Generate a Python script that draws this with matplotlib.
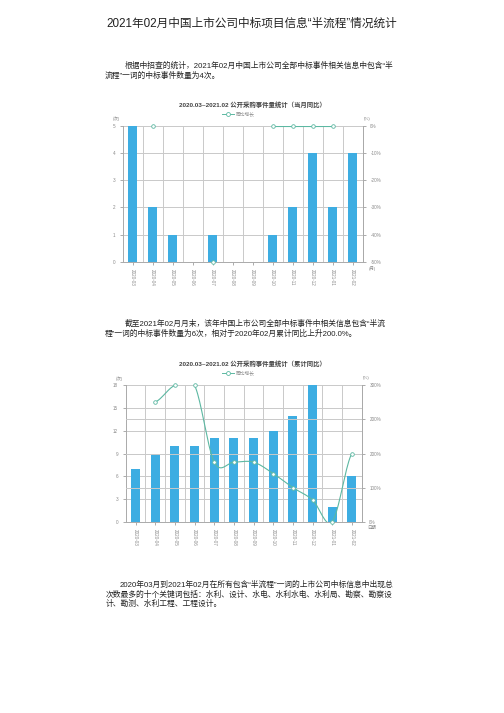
import numpy as np
import matplotlib
matplotlib.use("Agg")
import matplotlib.pyplot as plt
from matplotlib.lines import Line2D

plt.rcParams['font.family'] = ['Liberation Sans', 'Noto Sans CJK SC', 'DejaVu Sans']

# data
months = ["2020-03", "2020-04", "2020-05", "2020-06", "2020-07", "2020-08",
          "2020-09", "2020-10", "2020-11", "2020-12", "2021-01", "2021-02"]
monthly_counts = [5, 2, 1, 0, 1, 0, 0, 1, 2, 4, 2, 4]
monthly_yoy = [np.nan, 0, np.nan, np.nan, -50, np.nan, np.nan, 0, 0, 0, 0, np.nan]
cum_counts = [7, 9, 10, 10, 11, 11, 11, 12, 14, 18, 2, 6]
cum_yoy = [np.nan, 263, 300, 300, 131, 131, 131, 106, 75, 48, 0, 150]

BAR = "#3dade2"
LINE = "#5cb8a2"
GRID = "#c9c9c9"
TICK = "#8a8a8a"

W, H = 504, 713
fig = plt.figure(figsize=(W / 100, H / 100), dpi=100)


def px(x, y):
    return x / W, 1 - y / H


def text_at(x, y, s, **kw):
    fx, fy = px(x, y)
    fig.text(fx, fy, s, **kw)


def smooth(xs, ys, n=20):
    # catmull-rom through consecutive valid points (just for drawing)
    xs = np.asarray(xs, float)
    ys = np.asarray(ys, float)
    out_x, out_y = [], []
    for i in range(len(xs) - 1):
        p0 = ys[i - 1] if i > 0 else ys[i]
        p3 = ys[i + 2] if i + 2 < len(ys) else ys[i + 1]
        p1, p2 = ys[i], ys[i + 1]
        t = np.linspace(0, 1, n)
        m1 = (p2 - p0) / 2
        m2 = (p3 - p1) / 2
        h00 = 2 * t**3 - 3 * t**2 + 1
        h10 = t**3 - 2 * t**2 + t
        h01 = -2 * t**3 + 3 * t**2
        h11 = t**3 - t**2
        out_y.extend(h00 * p1 + h10 * m1 + h01 * p2 + h11 * m2)
        out_x.extend(xs[i] + t * (xs[i + 1] - xs[i]))
    return np.array(out_x), np.array(out_y)


def draw_chart(rect, counts, yoy, ymax, ystep, rlim, rticks, rlabels,
               title, legend_y, title_y, unit_bottom, extra_grid=None):
    x0, y0, x1, y1 = rect
    fl, fb = px(x0, y1)
    ax = fig.add_axes([fl, fb, (x1 - x0) / W, (y1 - y0) / H])
    x = np.arange(len(months))
    ax.bar(x, counts, width=0.47, color=BAR, zorder=2)
    ax.set_xlim(-0.5, len(months) - 0.5)
    ax.set_ylim(0, ymax)
    ax.set_yticks(np.arange(0, ymax + 0.01, ystep))
    ax.set_yticklabels([str(int(v)) for v in np.arange(0, ymax + 0.01, ystep)])
    ax.set_xticks(x)
    ax.set_xticklabels(months, rotation=270)
    ax.tick_params(axis='both', labelsize=3.3, colors=TICK, length=2, width=0.5)
    for b in np.arange(0.5, len(months) - 0.5, 1):
        ax.axvline(b, color=GRID, lw=0.7, zorder=1)
    for v in np.arange(ystep, ymax + 0.01, ystep):
        ax.axhline(v, color=GRID, lw=0.7, zorder=1)
    for s in ax.spines.values():
        s.set_color("#aaaaaa")
        s.set_linewidth(0.7)
    ax.spines['top'].set_visible(False)

    ax2 = ax.twinx()
    ax2.set_ylim(*rlim)
    ax2.set_yticks(rticks)
    ax2.set_yticklabels(rlabels)
    ax2.tick_params(axis='y', labelsize=3.3, colors=TICK, length=2, width=0.5)
    for s in ax2.spines.values():
        s.set_visible(False)
    ax2.spines['right'].set_visible(True)
    ax2.spines['right'].set_color("#aaaaaa")
    ax2.spines['right'].set_linewidth(0.7)
    if extra_grid is not None:
        for v in extra_grid:
            ax2.axhline(v, color=GRID, lw=0.7, zorder=1)

    yv = np.array(yoy, float)
    valid = ~np.isnan(yv)
    # draw connected runs
    i = 0
    while i < len(yv):
        if valid[i]:
            j = i
            while j + 1 < len(yv) and valid[j + 1]:
                j += 1
            if j > i:
                sx, sy = smooth(x[i:j + 1], yv[i:j + 1])
                ax2.plot(sx, sy, color=LINE, lw=0.8, zorder=3)
            i = j + 1
        else:
            i += 1
    ax2.plot(x[valid], yv[valid], linestyle="none", marker="o", ms=2.6,
             mfc="white", mec=LINE, mew=0.6, clip_on=False, zorder=4)

    text_at(252, title_y, title, ha="center", va="center", fontsize=4.6,
            fontweight="bold", color="#444444")
    # legend
    lx, ly = px(228, legend_y)
    fig.add_artist(Line2D([lx - 0.011, lx + 0.011], [ly, ly], color=LINE, lw=0.7,
                          transform=fig.transFigure))
    fig.add_artist(Line2D([lx], [ly], color=LINE, marker="o", ms=2.8, mfc="white",
                          mec=LINE, mew=0.6, transform=fig.transFigure))
    text_at(236, legend_y, "同比增长", ha="left", va="center", fontsize=3.4,
            color=TICK)
    text_at(x0 - 10, y0 - 7, "(次)", ha="left", va="center", fontsize=3.2, color=TICK)
    text_at(x1 + 1, y0 - 7, "(%)", ha="left", va="center", fontsize=3.2, color=TICK)
    text_at(x1 + 6, y1 + 6.5, unit_bottom, ha="left", va="center", fontsize=3.2,
            color=TICK)
    return ax


# header text
text_at(252, 24, "2021年02月中国上市公司中标项目信息“半流程”情况统计", ha="center",
        va="center", fontsize=8.4, color="#222222")
p_kw = dict(ha="left", va="center", fontsize=5.6, color="#222222")
text_at(125, 66, "根据中招查的统计，2021年02月中国上市公司全部中标事件相关信息中包含“半", **p_kw)
text_at(105, 75.5, "流程”一词的中标事件数量为4次。", **p_kw)

draw_chart((122.7, 126, 362.7, 261.7), monthly_counts, monthly_yoy, 5, 1,
           (-50, 0), [0, -10, -20, -30, -40, -50],
           ["0%", "-10%", "-20%", "-30%", "-40%", "-50%"],
           "2020.03~2021.02 公开采购事件量统计（当月同比）", 114, 105, "(月)")

text_at(125, 324, "截至2021年02月月末，该年中国上市公司全部中标事件中相关信息包含“半流", **p_kw)
text_at(105, 333.5, "程”一词的中标事件数量为6次，相对于2020年02月累计同比上升200.0%。", **p_kw)

draw_chart((125.7, 385.3, 361.7, 521.7), cum_counts, cum_yoy, 18, 3,
           (0, 300), [0, 75, 150, 225, 300],
           ["0%", "100%", "200%", "200%", "300%"],
           "2020.03~2021.02 公开采购事件量统计（累计同比）", 373, 364, "日期",
           extra_grid=[75, 150, 225])

text_at(120, 585, "2020年03月到2021年02月在所有包含“半流程”一词的上市公司中标信息中出现总", **p_kw)
text_at(106, 594.5, "次数最多的十个关键词包括：水利、设计、水电、水利水电、水利局、勘察、勘察设", **p_kw)
text_at(106, 604, "计、勘测、水利工程、工程设计。", **p_kw)

fig.savefig("out.png", dpi=100, facecolor="white")
